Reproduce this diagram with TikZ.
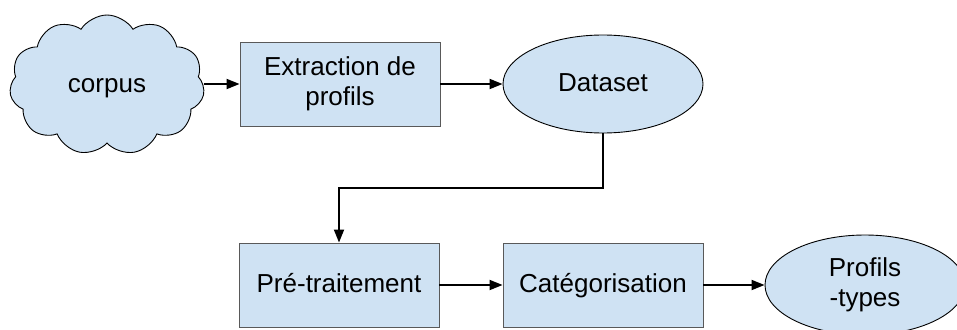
\documentclass[tikz,border=0pt]{standalone}
\usepackage{fontspec}
\setmainfont{Liberation Sans}
\usetikzlibrary{shapes.geometric,shapes.symbols,arrows.meta}
\definecolor{fillblue}{HTML}{CFE2F3}
\definecolor{boxline}{HTML}{595959}
\tikzset{
  base/.style={fill=fillblue, font=\fontsize{26}{30.5}\selectfont, align=center, inner sep=0pt, line width=0.9pt},
  oneline/.style={text height=19pt, text depth=5pt},
  boxnode/.style={base, draw=boxline, rectangle, minimum width=200pt, minimum height=84pt},
  ellnode/.style={base, draw=black, ellipse, minimum width=200pt, minimum height=98pt},
  cloudnode/.style={base, draw=black, cloud, cloud puffs=11, cloud puff arc=115, minimum width=195pt, minimum height=140pt, aspect=1.4},
  flow/.style={line width=1.8pt, -{Triangle[length=13pt,width=10pt]}}
}
\begin{document}
\begin{tikzpicture}[x=1pt,y=-1pt]
\useasboundingbox (0,0) rectangle (957,329);
\clip (0,0) rectangle (957,329);
\node[cloudnode, oneline] (corpus) at (107,85) {corpus};
\node[boxnode] (ext) at (340,84) {Extraction de\\profils};
\node[ellnode, oneline] (ds) at (603,84) {Dataset};
\node[boxnode, oneline] (pre) at (339,285) {Pré-traitement};
\node[boxnode, oneline] (cat) at (603,285) {Catégorisation};
\node[ellnode, minimum height=100pt] (prof) at (865,285) {Profils\\-types};
\coordinate (k1) at (603,188);
\coordinate (k2) at (339,188);
\draw[flow] (corpus.east |- ext.west) -- (ext.west);
\draw[flow] (ext.east) -- (ds.west);
\draw[flow] (ds.south) -- (k1) -- (k2) -- (pre.north);
\draw[flow] (pre.east) -- (cat.west);
\draw[flow] (cat.east) -- (prof.west);
\end{tikzpicture}
\end{document}
